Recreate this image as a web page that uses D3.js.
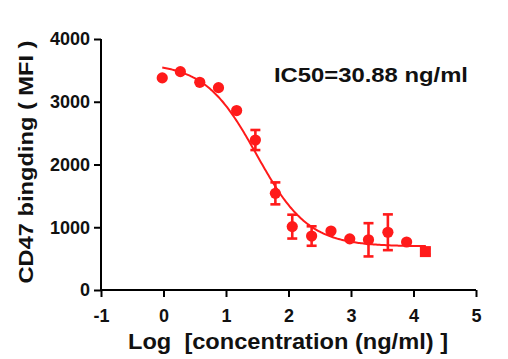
<!DOCTYPE html>
<html lang="en">
<head>
<meta charset="UTF-8" />
<script src="https://d3js.org/d3.v7.min.js"></script>
<style>
  body { margin: 0; background: #fff; }
  svg text { font-family: Arial, "Liberation Sans", sans-serif; font-weight: bold; }
</style>
</head>
<body>
<div class="chart"></div>
<script>
// log10 concentration and mean MFI
const logConc = [-0.02, 0.27, 0.58, 0.88, 1.17, 1.47, 1.79, 2.06, 2.37, 2.68, 2.98, 3.28, 3.59, 3.89, 4.19];
const mfi     = [3380, 3480, 3310, 3225, 2860, 2390, 1540, 1010, 860, 940, 815, 800, 920, 765, 612];
const errBar  = [0, 0, 0, 0, 0, 160, 175, 190, 155, 0, 0, 265, 285, 0, 45];
const xTicks = [-1, 0, 1, 2, 3, 4, 5];
const yTicks = [0, 1000, 2000, 3000, 4000];

// 4PL fit shown on the chart
const fitTop = 3620, fitBottom = 695, logIC50 = Math.log10(30.88), hill = 1.05;
const fit = v => fitBottom + (fitTop - fitBottom) / (1 + Math.pow(10, hill * (v - logIC50)));

const width = 508, height = 359;
const margin = {left: 101, right: 32, top: 39, bottom: 69};

const svg = d3.select(".chart").append("svg")
  .attr("width", width).attr("height", height);

const x = d3.scaleLinear().domain([-1, 5]).range([margin.left, width - margin.right]);
const y = d3.scaleLinear().domain([0, 4000]).range([height - margin.bottom, margin.top]);

const red = "#ff1a1a";

// axes
const xAxis = svg.append("g")
  .attr("transform", `translate(0,${y(0)})`)
  .call(d3.axisBottom(x).tickValues(xTicks).tickSize(7).tickFormat(d => String(d)));
const yAxis = svg.append("g")
  .attr("transform", `translate(${x(-1)},0)`)
  .call(d3.axisLeft(y).tickValues(yTicks).tickSize(7).tickPadding(4).tickFormat(d => String(d)));
[xAxis, yAxis].forEach(a => {
  a.select(".domain").attr("stroke", "#000").attr("stroke-width", 2);
  a.selectAll(".tick line").attr("stroke", "#000").attr("stroke-width", 2);
  a.selectAll(".tick text").attr("font-size", 18).attr("fill", "#111");
});
xAxis.selectAll(".tick text").attr("y", 32).attr("dy", null);
xAxis.select(".domain").attr("d", `M${x(-1)},0H${x(5)}`);
yAxis.select(".domain").attr("d", `M0,${y(0)}V${y(4000)}`);

// fitted curve
const curveX = d3.range(-0.02, 4.2001, 0.02);
svg.append("path")
  .datum(curveX)
  .attr("fill", "none")
  .attr("stroke", red)
  .attr("stroke-width", 2)
  .attr("d", d3.line().x(d => x(d)).y(d => y(fit(d))));

// error bars
const pts = logConc.map((d, i) => ({x: d, y: mfi[i], e: errBar[i], sq: i === logConc.length - 1}));
const eb = svg.append("g").attr("stroke", red).attr("stroke-width", 2.6);
pts.filter(d => d.e > 0).forEach(d => {
  eb.append("line").attr("x1", x(d.x)).attr("x2", x(d.x)).attr("y1", y(d.y - d.e)).attr("y2", y(d.y + d.e));
  eb.append("line").attr("x1", x(d.x) - 5).attr("x2", x(d.x) + 5).attr("y1", y(d.y - d.e)).attr("y2", y(d.y - d.e));
  eb.append("line").attr("x1", x(d.x) - 5).attr("x2", x(d.x) + 5).attr("y1", y(d.y + d.e)).attr("y2", y(d.y + d.e));
});

// markers
svg.append("g").selectAll("circle")
  .data(pts.filter(d => !d.sq)).enter().append("circle")
  .attr("cx", d => x(d.x)).attr("cy", d => y(d.y)).attr("r", 5.6).attr("fill", red);
svg.append("g").selectAll("rect")
  .data(pts.filter(d => d.sq)).enter().append("rect")
  .attr("x", d => x(d.x) - 5.5).attr("y", d => y(d.y) - 5.5).attr("width", 11).attr("height", 11).attr("fill", red);

// labels
svg.append("text").attr("x", 274).attr("y", 82).attr("font-size", 21).attr("fill", "#111")
  .attr("textLength", 194).attr("lengthAdjust", "spacingAndGlyphs")
  .text("IC50=30.88 ng/ml");
svg.append("text")
  .attr("transform", `translate(33,162) rotate(-90)`)
  .attr("text-anchor", "middle").attr("font-size", 20).attr("fill", "#111")
  .attr("textLength", 243).attr("lengthAdjust", "spacingAndGlyphs")
  .text("CD47 bingding ( MFI )");
svg.append("text").attr("x", 288).attr("y", 349)
  .attr("text-anchor", "middle").attr("font-size", 22).attr("fill", "#111")
  .attr("xml:space", "preserve")
  .attr("textLength", 320).attr("lengthAdjust", "spacingAndGlyphs")
  .text("Log  [concentration (ng/ml) ]");
</script>
</body>
</html>
